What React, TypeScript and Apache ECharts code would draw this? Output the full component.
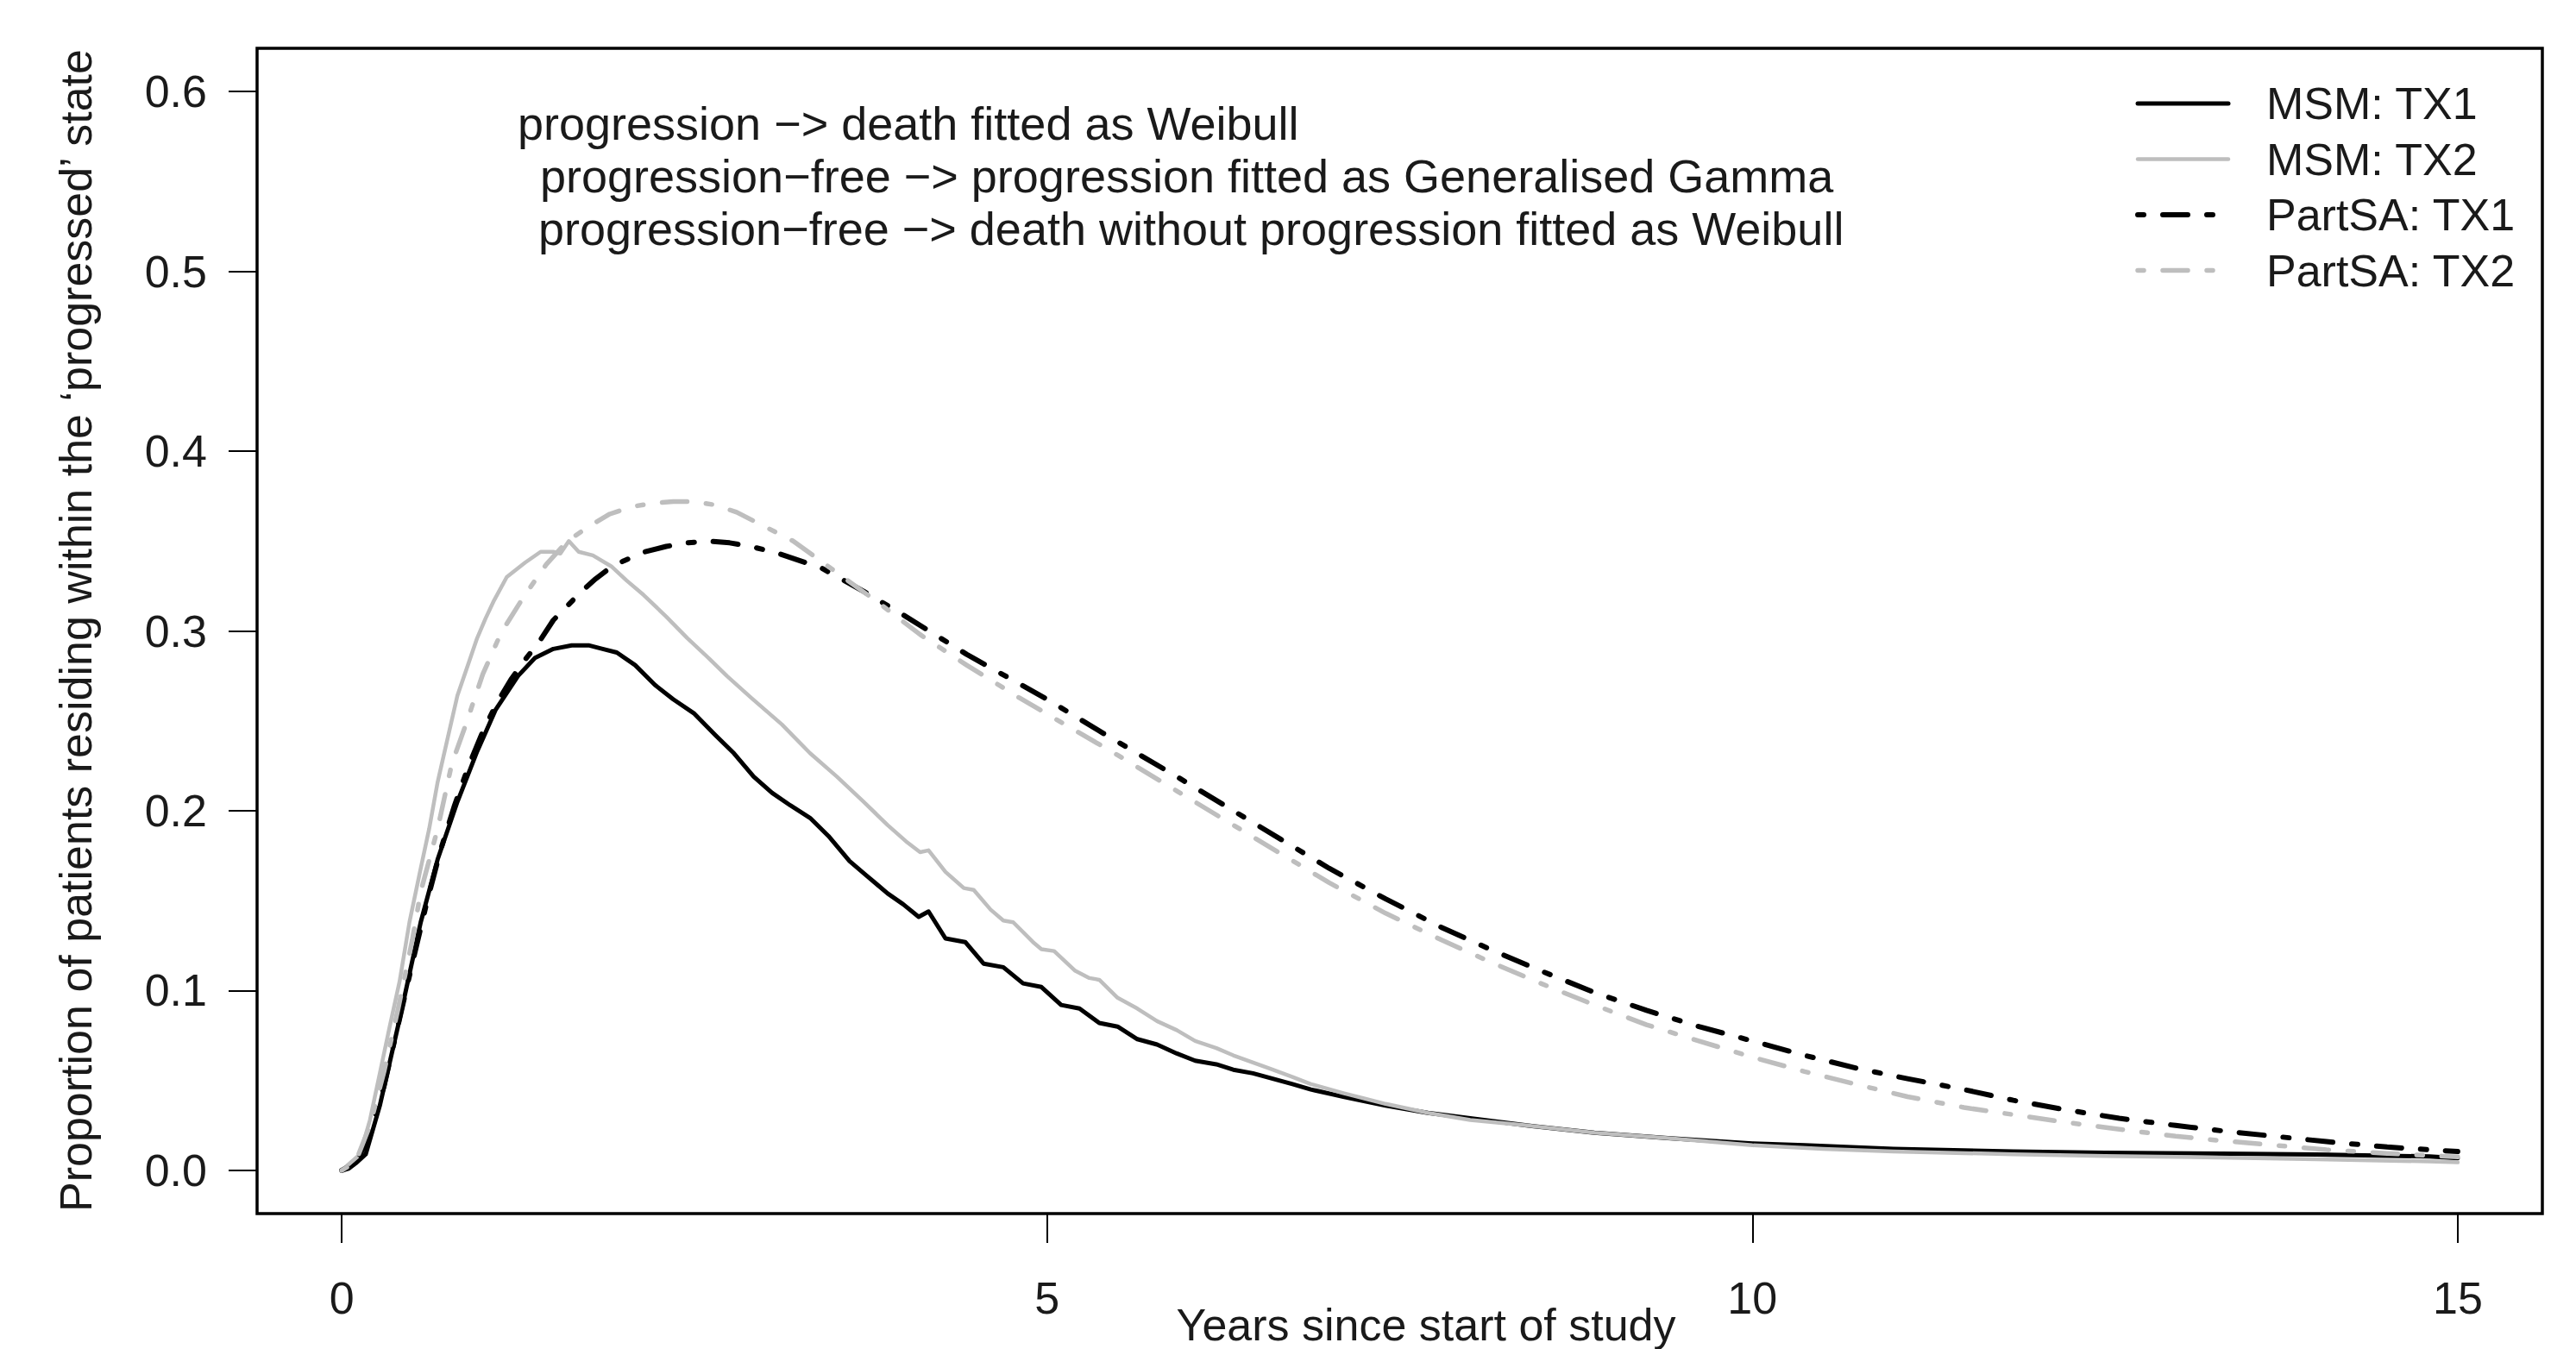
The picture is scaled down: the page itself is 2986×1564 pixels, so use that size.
import React, { useEffect, useRef } from "react";
import * as echarts from "echarts";

const FONT = '"Liberation Sans", Arial, Helvetica, sans-serif';
const TEXT_COLOR = "#1a1a1a";

const xTicks = [0, 5, 10, 15];
const yTicks = [0, 0.1, 0.2, 0.3, 0.4, 0.5, 0.6];

const seriesNames = ["MSM: TX1", "MSM: TX2", "PartSA: TX1", "PartSA: TX2"];

const xAxisTitle = "Years since start of study";
const yAxisTitle = "Proportion of patients residing within the \u2018progressed\u2019 state";
const noteLines = [
  "progression \u2212> death fitted as Weibull",
  "progression\u2212free \u2212> progression fitted as Generalised Gamma",
  "progression\u2212free \u2212> death without progression fitted as Weibull",
];

// MSM: TX1 (black solid)
const msmTx1Years = [0, 0.05, 0.1, 0.17, 0.27, 0.41, 0.56, 0.68, 0.82, 0.96, 1.09, 1.25, 1.37, 1.5, 1.63, 1.75, 1.85, 1.95, 2.08, 2.22, 2.35, 2.5, 2.65, 2.78, 2.92, 3.05, 3.18, 3.32, 3.45, 3.6, 3.72, 3.87, 3.98, 4.09, 4.16, 4.28, 4.42, 4.55, 4.69, 4.83, 4.96, 5.1, 5.23, 5.37, 5.5, 5.64, 5.78, 5.92, 6.05, 6.2, 6.32, 6.46, 6.6, 6.74, 6.87, 7.1, 7.4, 7.7, 8.0, 8.4, 8.88, 9.4, 10.0, 10.37, 11.0, 11.85, 12.5, 13.33, 14.0, 14.8, 15.0];
const msmTx1Values = [0, 0.001, 0.004, 0.009, 0.036, 0.084, 0.138, 0.173, 0.205, 0.233, 0.256, 0.275, 0.285, 0.29, 0.292, 0.292, 0.29, 0.288, 0.281, 0.27, 0.262, 0.254, 0.242, 0.232, 0.219, 0.21, 0.203, 0.196, 0.186, 0.172, 0.164, 0.154, 0.148, 0.141, 0.144, 0.129, 0.127, 0.115, 0.113, 0.104, 0.102, 0.092, 0.09, 0.082, 0.08, 0.073, 0.07, 0.065, 0.061, 0.059, 0.056, 0.054, 0.051, 0.048, 0.045, 0.041, 0.036, 0.032, 0.029, 0.025, 0.021, 0.018, 0.015, 0.014, 0.012, 0.0105, 0.0098, 0.0093, 0.0088, 0.0078, 0.0068];

// MSM: TX2 (grey solid)
const msmTx2Years = [0, 0.13, 0.2, 0.27, 0.34, 0.41, 0.48, 0.56, 0.62, 0.68, 0.75, 0.82, 0.89, 0.96, 1.02, 1.08, 1.17, 1.3, 1.41, 1.5, 1.55, 1.61, 1.68, 1.78, 1.91, 2.02, 2.14, 2.3, 2.45, 2.6, 2.73, 2.9, 3.12, 3.32, 3.51, 3.7, 3.87, 4.0, 4.1, 4.16, 4.28, 4.41, 4.48, 4.6, 4.69, 4.76, 4.9, 4.96, 5.05, 5.2, 5.3, 5.37, 5.5, 5.64, 5.78, 5.92, 6.05, 6.2, 6.32, 6.46, 6.6, 6.74, 6.87, 7.1, 7.4, 7.7, 8.0, 8.4, 8.88, 9.4, 10.0, 10.5, 11.0, 11.85, 12.5, 13.3, 14.0, 14.8, 15.0];
const msmTx2Values = [0, 0.009, 0.028, 0.054, 0.08, 0.105, 0.138, 0.168, 0.19, 0.216, 0.24, 0.264, 0.28, 0.296, 0.307, 0.317, 0.33, 0.338, 0.344, 0.344, 0.343, 0.35, 0.344, 0.342, 0.336, 0.328, 0.32, 0.308, 0.296, 0.285, 0.275, 0.263, 0.248, 0.232, 0.219, 0.205, 0.192, 0.183, 0.177, 0.178, 0.166, 0.157, 0.156, 0.145, 0.139, 0.138, 0.127, 0.123, 0.122, 0.111, 0.107, 0.106, 0.096, 0.09, 0.083, 0.078, 0.072, 0.068, 0.064, 0.06, 0.056, 0.052, 0.048, 0.043, 0.037, 0.032, 0.028, 0.025, 0.021, 0.018, 0.014, 0.012, 0.0105, 0.009, 0.008, 0.0072, 0.0062, 0.005, 0.0045];

// PartSA: TX1 (black dot-dash)
const partTx1Years = [0, 0.1, 0.2, 0.3, 0.4, 0.5, 0.6, 0.7, 0.8, 0.9, 1.0, 1.1, 1.2, 1.3, 1.4, 1.5, 1.6, 1.7, 1.8, 1.9, 2.0, 2.15, 2.3, 2.45, 2.6, 2.75, 2.9, 3.1, 3.4, 3.7, 4.0, 4.43, 5.0, 5.4, 5.92, 6.3, 6.66, 7.0, 7.4, 7.8, 8.14, 8.5, 8.88, 9.25, 9.62, 10.0, 10.37, 10.73, 11.1, 11.5, 11.85, 12.2, 12.6, 13.0, 13.33, 13.7, 14.07, 14.5, 15.0];
const partTx1Values = [0, 0.004, 0.02, 0.047, 0.081, 0.115, 0.148, 0.178, 0.203, 0.225, 0.244, 0.26, 0.273, 0.284, 0.294, 0.306, 0.314, 0.322, 0.329, 0.335, 0.339, 0.344, 0.347, 0.349, 0.35, 0.349, 0.347, 0.343, 0.335, 0.322, 0.308, 0.287, 0.262, 0.243, 0.219, 0.201, 0.184, 0.168, 0.151, 0.135, 0.123, 0.111, 0.099, 0.089, 0.08, 0.072, 0.064, 0.057, 0.051, 0.045, 0.039, 0.034, 0.029, 0.025, 0.022, 0.019, 0.016, 0.013, 0.0105];

// PartSA: TX2 (grey dot-dash)
const partTx2Years = [0, 0.1, 0.2, 0.3, 0.4, 0.5, 0.56, 0.68, 0.78, 0.88, 1.0, 1.13, 1.29, 1.45, 1.6, 1.75, 1.9, 2.05, 2.2, 2.35, 2.5, 2.65, 2.8, 2.95, 3.2, 3.5, 3.8, 4.1, 4.43, 4.8, 5.17, 5.5, 5.92, 6.3, 6.66, 7.0, 7.4, 7.8, 8.14, 8.5, 8.88, 9.25, 9.62, 10.0, 10.37, 10.73, 11.1, 11.5, 11.85, 12.2, 12.59, 13.0, 13.33, 13.7, 14.07, 14.5, 15.0];
const partTx2Values = [0, 0.005, 0.025, 0.055, 0.09, 0.128, 0.155, 0.19, 0.226, 0.248, 0.276, 0.299, 0.319, 0.337, 0.35, 0.358, 0.365, 0.369, 0.371, 0.372, 0.372, 0.37, 0.366, 0.36, 0.35, 0.333, 0.316, 0.298, 0.281, 0.263, 0.246, 0.231, 0.211, 0.193, 0.176, 0.16, 0.143, 0.128, 0.116, 0.104, 0.092, 0.081, 0.072, 0.063, 0.055, 0.048, 0.041, 0.035, 0.031, 0.027, 0.023, 0.019, 0.0165, 0.014, 0.0115, 0.0095, 0.0075];

const zip = (xs: number[], ys: number[]) => xs.map((x, i) => [x, ys[i]]);

const DOT_DASH = [7, 22, 29, 22];

export default function App() {
  const ref = useRef<HTMLDivElement>(null);

  useEffect(() => {
    if (!ref.current) return;
    const chart = echarts.init(ref.current, null, { renderer: "svg" });

    const lineSeries = (name: string, data: number[][], color: string, width: number, type: any, z: number) => ({
      name,
      type: "line",
      data,
      symbol: "none",
      showSymbol: false,
      smooth: false,
      z,
      lineStyle: { color, width, type, cap: "round", join: "round" },
      itemStyle: { color },
      emphasis: { disabled: true },
    });

    const noteStyle = { fontSize: 54, fontFamily: FONT, fill: TEXT_COLOR, align: "left", verticalAlign: "middle" };

    chart.setOption({
      animation: false,
      backgroundColor: "#ffffff",
      grid: {
        left: 298,
        right: 39,
        top: 56,
        bottom: 157,
        show: true,
        borderColor: "#000",
        borderWidth: 3.5,
        backgroundColor: "transparent",
        containLabel: false,
      },
      xAxis: {
        type: "value",
        min: -0.6,
        max: 15.6,
        axisLine: { show: false, onZero: false },
        splitLine: { show: false },
        axisTick: {
          show: true,
          customValues: xTicks,
          length: 34,
          inside: false,
          lineStyle: { color: "#000", width: 2 },
        },
        axisLabel: {
          customValues: xTicks,
          fontSize: 52,
          fontFamily: FONT,
          color: TEXT_COLOR,
          margin: 72,
          formatter: (v: number) => String(v),
        },
      },
      yAxis: {
        type: "value",
        min: -0.024,
        max: 0.624,
        axisLine: { show: false, onZero: false },
        splitLine: { show: false },
        axisTick: {
          show: true,
          customValues: yTicks,
          length: 33,
          inside: false,
          lineStyle: { color: "#000", width: 2 },
        },
        axisLabel: {
          customValues: yTicks,
          fontSize: 52,
          fontFamily: FONT,
          color: TEXT_COLOR,
          margin: 58,
          formatter: (v: number) => v.toFixed(1),
        },
      },
      legend: {
        data: seriesNames,
        orient: "vertical",
        left: 2475,
        top: 94,
        itemWidth: 105,
        itemHeight: 20,
        itemGap: 12.5,
        padding: 0,
        selectedMode: false,
        itemStyle: { opacity: 0 },
        lineStyle: { width: "inherit" },
        textStyle: {
          fontSize: 52,
          fontFamily: FONT,
          color: TEXT_COLOR,
          lineHeight: 52,
          padding: [0, 0, 0, 39],
        },
      },
      graphic: [
        { type: "text", x: 600, y: 143, style: { text: noteLines[0], ...noteStyle } },
        { type: "text", x: 626, y: 204, style: { text: noteLines[1], ...noteStyle } },
        { type: "text", x: 624, y: 265, style: { text: noteLines[2], ...noteStyle } },
        {
          type: "text",
          x: 88,
          y: 731,
          rotation: Math.PI / 2,
          style: { text: yAxisTitle, fontSize: 52, fontFamily: FONT, fill: TEXT_COLOR, align: "center", verticalAlign: "middle" },
        },
        {
          type: "text",
          x: 1653,
          y: 1536,
          style: { text: xAxisTitle, fontSize: 52, fontFamily: FONT, fill: TEXT_COLOR, align: "center", verticalAlign: "middle" },
        },
      ],
      series: [
        lineSeries(seriesNames[0], zip(msmTx1Years, msmTx1Values), "#000000", 5, "solid", 2),
        lineSeries(seriesNames[1], zip(msmTx2Years, msmTx2Values), "#bebebe", 4.5, "solid", 3),
        lineSeries(seriesNames[2], zip(partTx1Years, partTx1Values), "#000000", 6, DOT_DASH, 4),
        lineSeries(seriesNames[3], zip(partTx2Years, partTx2Values), "#bebebe", 5.5, DOT_DASH, 5),
      ],
    });

    return () => chart.dispose();
  }, []);

  return (
    <div
      ref={ref}
      style={{ position: "absolute", left: 0, top: 0, width: 2986, height: 1564, background: "#fff" }}
    />
  );
}
